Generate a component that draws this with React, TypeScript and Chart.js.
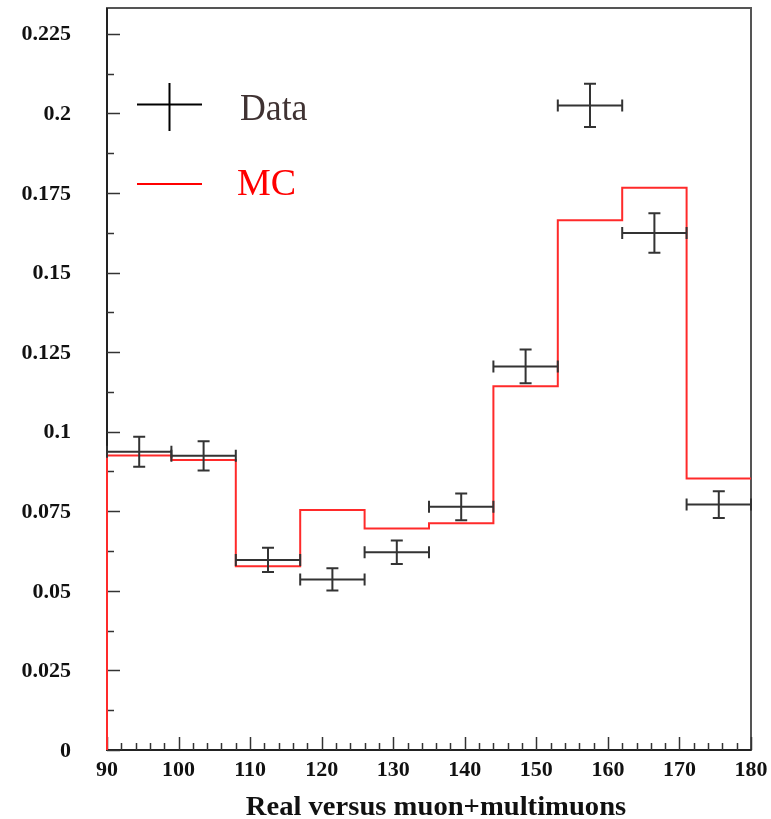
import React, { useEffect, useRef } from "react";
import { Chart, registerables } from "chart.js";

Chart.register(...registerables);

const binEdges = [90, 99, 108, 117, 126, 135, 144, 153, 162, 171, 180];
const dataValues = [0.0937, 0.0924, 0.0597, 0.0536, 0.0621, 0.0764, 0.1205, 0.2025, 0.1624, 0.0771];
const dataErrors = [0.0047, 0.0046, 0.0038, 0.0035, 0.0037, 0.0042, 0.0053, 0.0068, 0.0062, 0.0042];
const mcValues = [0.0925, 0.0911, 0.0577, 0.0754, 0.0696, 0.0712, 0.1143, 0.1664, 0.1766, 0.0853];

const xTickLabels = [90, 100, 110, 120, 130, 140, 150, 160, 170, 180];
const yTickLabels = ["0", "0.025", "0.05", "0.075", "0.1", "0.125", "0.15", "0.175", "0.2", "0.225"];
const xTitle = "Real versus muon+multimuons";
const legendLabels = ["Data", "MC"];

const X_MIN = 90;
const X_MAX = 180;
const Y_MIN = 0;
const Y_MAX = 0.2331;

const SERIF = "'Liberation Serif', 'Times New Roman', serif";

const framePlugin = {
  id: "rootFrame",
  beforeDatasetsDraw(chart: any) {
    const { ctx, chartArea, scales } = chart;
    const xs = scales.x;
    const ys = scales.y;
    ctx.save();
    ctx.strokeStyle = "#555555";
    ctx.lineWidth = 2;
    ctx.strokeRect(chartArea.left, chartArea.top, chartArea.right - chartArea.left, chartArea.bottom - chartArea.top);
    ctx.strokeStyle = "#222222";
    ctx.beginPath();
    ctx.moveTo(chartArea.left, chartArea.top);
    ctx.lineTo(chartArea.left, chartArea.bottom);
    ctx.lineTo(chartArea.right, chartArea.bottom);
    ctx.stroke();

    ctx.lineWidth = 1.5;
    ctx.strokeStyle = "#333333";
    for (let i = 0; i < yTickLabels.length * 2; i++) {
      const v = i * 0.0125;
      if (v > Y_MAX) break;
      const py = Math.round(ys.getPixelForValue(v)) + 0.5;
      const len = i % 2 === 0 ? 13 : 7;
      ctx.beginPath();
      ctx.moveTo(chartArea.left, py);
      ctx.lineTo(chartArea.left + len, py);
      ctx.stroke();
    }
    for (let v = X_MIN; v <= X_MAX + 0.001; v += 2) {
      const px = Math.round(xs.getPixelForValue(v)) + 0.5;
      const major = Math.abs((v - X_MIN) % 10) < 0.001;
      const len = major ? 13 : 7;
      ctx.beginPath();
      ctx.moveTo(px, chartArea.bottom);
      ctx.lineTo(px, chartArea.bottom - len);
      ctx.stroke();
    }

    ctx.fillStyle = "#111111";
    ctx.font = `bold 22px ${SERIF}`;
    ctx.textAlign = "right";
    ctx.textBaseline = "middle";
    yTickLabels.forEach((lab) => {
      const v = parseFloat(lab);
      ctx.fillText(lab, 71, ys.getPixelForValue(v) + 1);
    });
    ctx.textAlign = "center";
    xTickLabels.forEach((v) => {
      ctx.fillText(String(v), xs.getPixelForValue(v), 770);
    });
    ctx.font = `bold 27px ${SERIF}`;
    ctx.textBaseline = "alphabetic";
    ctx.save();
    ctx.translate(436, 815);
    ctx.scale(1.06, 1);
    ctx.fillText(xTitle, 0, 0);
    ctx.restore();
    ctx.restore();
  },
  afterDatasetsDraw(chart: any) {
    const { ctx, scales } = chart;
    const xs = scales.x;
    const ys = scales.y;
    ctx.save();
    ctx.strokeStyle = "#333333";
    ctx.lineWidth = 2;
    const cap = 6;
    dataValues.forEach((v, i) => {
      const x0 = xs.getPixelForValue(binEdges[i]);
      const x1 = xs.getPixelForValue(binEdges[i + 1]);
      const xc = xs.getPixelForValue((binEdges[i] + binEdges[i + 1]) / 2);
      const y = ys.getPixelForValue(v);
      const yt = ys.getPixelForValue(v + dataErrors[i]);
      const yb = ys.getPixelForValue(v - dataErrors[i]);
      ctx.beginPath();
      ctx.moveTo(x0, y);
      ctx.lineTo(x1, y);
      ctx.moveTo(x0, y - cap);
      ctx.lineTo(x0, y + cap);
      ctx.moveTo(x1, y - cap);
      ctx.lineTo(x1, y + cap);
      ctx.moveTo(xc, yt);
      ctx.lineTo(xc, yb);
      ctx.moveTo(xc - cap, yt);
      ctx.lineTo(xc + cap, yt);
      ctx.moveTo(xc - cap, yb);
      ctx.lineTo(xc + cap, yb);
      ctx.stroke();
    });

    ctx.strokeStyle = "#000000";
    ctx.lineWidth = 2;
    ctx.beginPath();
    ctx.moveTo(137, 104.5);
    ctx.lineTo(202, 104.5);
    ctx.moveTo(169.5, 83);
    ctx.lineTo(169.5, 131);
    ctx.stroke();
    ctx.strokeStyle = "#ff0000";
    ctx.beginPath();
    ctx.moveTo(137, 184);
    ctx.lineTo(202, 184);
    ctx.stroke();

    ctx.font = `38px ${SERIF}`;
    ctx.textAlign = "left";
    ctx.textBaseline = "alphabetic";
    ctx.fillStyle = "#3f3232";
    ctx.save();
    ctx.translate(240, 120);
    ctx.scale(0.94, 1);
    ctx.fillText(legendLabels[0], 0, 0);
    ctx.restore();
    ctx.fillStyle = "#ff0000";
    ctx.fillText(legendLabels[1], 237, 195);
    ctx.restore();
  },
};

export default function App() {
  const canvasRef = useRef<HTMLCanvasElement | null>(null);

  useEffect(() => {
    document.body.style.margin = "0";
    const canvas = canvasRef.current;
    if (!canvas) return;

    const mcPoints: { x: number; y: number }[] = [{ x: binEdges[0], y: 0 }];
    mcValues.forEach((v, i) => mcPoints.push({ x: binEdges[i + 1], y: v }));

    const dataPoints = dataValues.map((v, i) => ({ x: (binEdges[i] + binEdges[i + 1]) / 2, y: v }));

    const chart = new Chart(canvas, {
      type: "line",
      data: {
        datasets: [
          {
            label: "MC",
            data: mcPoints,
            stepped: "after",
            borderColor: "#ff2a2a",
            borderWidth: 2,
            pointRadius: 0,
            fill: false,
            clip: 3,
          } as any,
          {
            label: "Data",
            type: "scatter",
            data: dataPoints,
            pointRadius: 0,
            showLine: false,
            borderColor: "#333333",
          } as any,
        ],
      },
      options: {
        animation: false,
        responsive: false,
        maintainAspectRatio: false,
        layout: { padding: { left: 107, right: 20, top: 8, bottom: 69 } },
        plugins: { legend: { display: false }, tooltip: { enabled: false } },
        scales: {
          x: { type: "linear", min: X_MIN, max: X_MAX, display: false },
          y: { type: "linear", min: Y_MIN, max: Y_MAX, display: false },
        },
      },
      plugins: [framePlugin],
    });
    return () => chart.destroy();
  }, []);

  return (
    <div style={{ position: "absolute", left: 0, top: 0, width: 771, height: 819, background: "#fff" }}>
      <canvas ref={canvasRef} width={771} height={819} style={{ width: 771, height: 819, display: "block" }} />
    </div>
  );
}
